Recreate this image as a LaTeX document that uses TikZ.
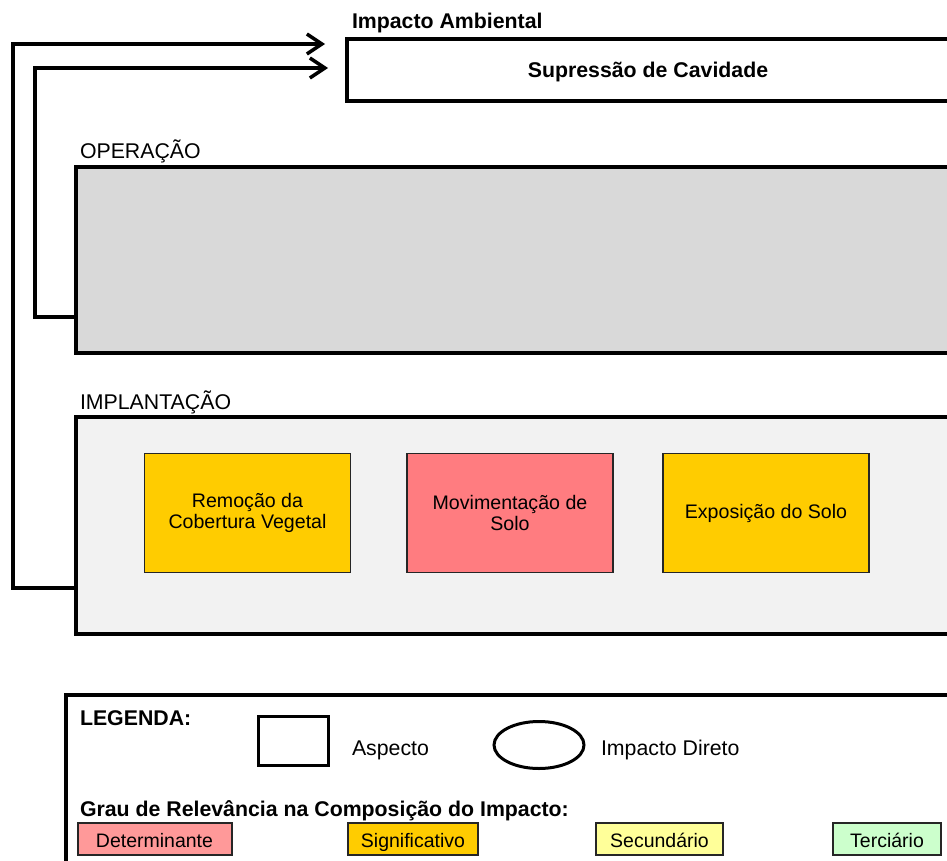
\documentclass[tikz,border=0pt]{standalone}
\usepackage{fontspec}
\setmainfont{Liberation Sans}
\usetikzlibrary{arrows.meta,shapes.geometric}
\definecolor{opgray}{HTML}{D9D9D9}
\definecolor{implgray}{HTML}{F2F2F2}
\definecolor{signif}{HTML}{FFCC00}
\definecolor{determ}{HTML}{FF7C80}
\definecolor{legdet}{HTML}{FF9999}
\definecolor{legsec}{HTML}{FFFF99}
\definecolor{legter}{HTML}{CCFFCC}
\definecolor{edge}{HTML}{262626}
\begin{document}
\begin{tikzpicture}[x=1pt,y=-1pt,
  every node/.style={font=\fontsize{21.3}{22}\selectfont, inner sep=0pt, outer sep=0pt},
  stage/.style={draw=black, line width=4pt, anchor=north west},
  aspectbox/.style={draw=edge, line width=1.5pt, minimum width=206pt, minimum height=119pt, align=center,
    font=\fontsize{19.6}{21.5}\selectfont},
  legbox/.style={draw=edge, line width=2pt, minimum height=32pt, text height=18pt, text depth=2pt,
    font=\fontsize{19.5}{22}\selectfont},
  conn/.style={draw=black, line width=3.5pt, -{Straight Barb[length=15pt,width=20pt]}},
  lbl/.style={anchor=base west},
  boldlbl/.style={anchor=base west, font=\fontsize{21.3}{22}\selectfont\bfseries}]
  \clip (0,0) rectangle (947,861);
  \fill[white] (0,0) rectangle (947,861);

  % impact box
  \node[boldlbl] (implbl) at (352,29) {Impacto Ambiental};
  \node[stage, fill=white, minimum width=640pt, minimum height=62pt] (imp) at (347,39) {};
  \node[anchor=base, font=\fontsize{21.3}{22}\selectfont\bfseries] (imptxt) at (648,78) {Supressão de Cavidade};

  % operation stage
  \node[lbl] (oplbl) at (80,159) {OPERAÇÃO};
  \node[stage, fill=opgray, minimum width=900pt, minimum height=186pt] (op) at (76,167) {};

  % implantation stage
  \node[lbl] (impllbl) at (80,409) {IMPLANTAÇÃO};
  \node[stage, fill=implgray, minimum width=900pt, minimum height=217pt] (impl) at (76,417) {};

  \node[aspectbox, fill=signif] (rem) at (247.5,513) {Remoção da\\Cobertura Vegetal};
  \node[aspectbox, fill=determ] (mov) at (510,513) {Movimentação de\\Solo};
  \node[aspectbox, fill=signif] (exp) at (766,513) {Exposição do Solo};

  % connectors to the impact
  \coordinate (outerc) at (13,44);
  \coordinate (outertip) at (325,44);
  \coordinate (innerc) at (35,68);
  \coordinate (innertip) at (328,68);
  \draw[conn] ([yshift=-62.5pt]impl.west) -| (outerc) -- (outertip);
  \draw[conn] ([yshift=-57pt]op.west) -| (innerc) -- (innertip);

  % legend
  \node[draw=black, line width=3.5pt, anchor=north west, minimum width=900pt, minimum height=200pt] (leg) at (66,695) {};
  \node[boldlbl] (legtitle) at (80,725) {LEGENDA:};
  \node[draw=black, line width=3pt, minimum width=70pt, minimum height=49pt] (legsq) at (293.5,740.5) {};
  \node[lbl] (legsqtxt) at (352,755) {Aspecto};
  \node[draw=black, line width=3pt, ellipse, minimum width=90pt, minimum height=47pt] (legell) at (539,745) {};
  \node[lbl] (legelltxt) at (601,755) {Impacto Direto};
  \node[boldlbl] (grau) at (80,816) {Grau de Relevância na Composição do Impacto:};
  \node[legbox, fill=legdet, minimum width=154pt] (ldet) at (154.5,839) {Determinante};
  \node[legbox, fill=signif, minimum width=130pt] (lsig) at (413,839) {Significativo};
  \node[legbox, fill=legsec, minimum width=127pt] (lsec) at (659.5,839) {Secundário};
  \node[legbox, fill=legter, minimum width=108pt] (lter) at (887,839) {Terciário};
\end{tikzpicture}
\end{document}
